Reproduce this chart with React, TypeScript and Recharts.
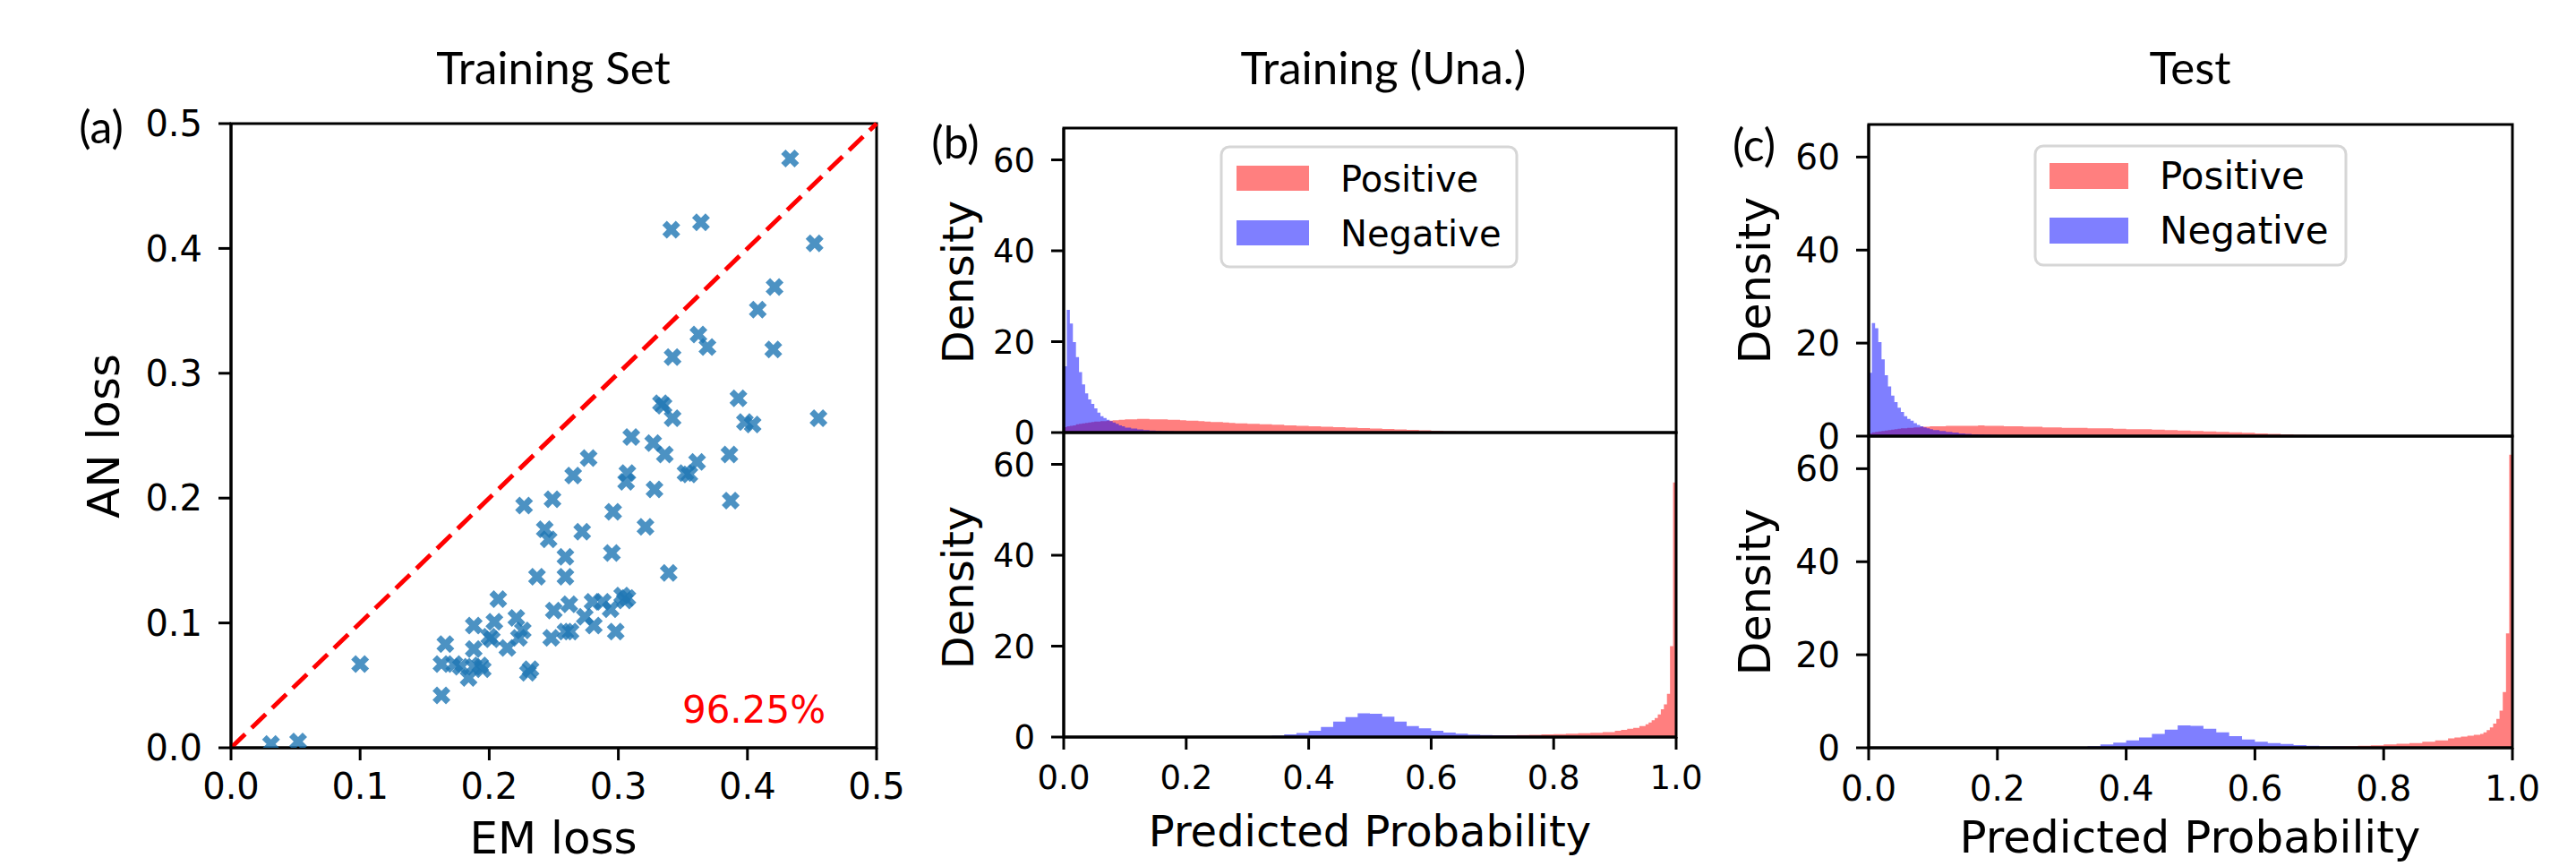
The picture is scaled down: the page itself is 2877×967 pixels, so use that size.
import React from 'react';
import {
  ScatterChart,
  Scatter,
  AreaChart,
  Area,
  XAxis,
  YAxis,
  ReferenceLine,
  ReferenceArea,
} from 'recharts';

// (a) per-sample losses on the training set
const emLoss = [
  0.433, 0.341, 0.364, 0.452, 0.421, 0.408, 0.362, 0.369, 0.42, 0.342,
  0.333, 0.335, 0.342, 0.393, 0.398, 0.404, 0.455, 0.31, 0.327, 0.336,
  0.386, 0.361, 0.352, 0.355, 0.277, 0.265, 0.307, 0.306, 0.328, 0.387,
  0.249, 0.227, 0.296, 0.321, 0.243, 0.246, 0.272, 0.259, 0.295, 0.339,
  0.237, 0.259, 0.207, 0.262, 0.28, 0.288, 0.303, 0.307, 0.294, 0.25,
  0.221, 0.204, 0.188, 0.274, 0.281, 0.259, 0.263, 0.298, 0.226, 0.2,
  0.248, 0.223, 0.166, 0.188, 0.214, 0.202, 0.163, 0.173, 0.178, 0.188,
  0.195, 0.184, 0.232, 0.23, 0.163, 0.1, 0.031, 0.052, 0.305, 0.193,
];
const anLoss = [
  0.472, 0.415, 0.421, 0.404, 0.369, 0.351, 0.331, 0.321, 0.319, 0.313,
  0.276, 0.274, 0.264, 0.28, 0.261, 0.259, 0.264, 0.249, 0.244, 0.235,
  0.235, 0.229, 0.22, 0.219, 0.232, 0.218, 0.22, 0.213, 0.207, 0.198,
  0.199, 0.194, 0.189, 0.177, 0.175, 0.167, 0.173, 0.153, 0.156, 0.14,
  0.137, 0.137, 0.119, 0.115, 0.117, 0.117, 0.122, 0.12, 0.111, 0.11,
  0.104, 0.101, 0.098, 0.105, 0.098, 0.093, 0.093, 0.093, 0.094, 0.089,
  0.088, 0.088, 0.083, 0.079, 0.08, 0.087, 0.067, 0.067, 0.065, 0.065,
  0.063, 0.056, 0.063, 0.06, 0.042, 0.067, 0.003, 0.005, 0.118, 0.066,
];
const lossTicks = [0, 0.1, 0.2, 0.3, 0.4, 0.5];

// histogram bins (left edges), finer near 0 and 1
const binEdges = [
  0, 0.005, 0.01, 0.015, 0.02, 0.025, 0.03, 0.035, 0.04, 0.045, 0.05, 0.055, 0.06, 0.065, 0.07, 0.075, 0.08, 0.085, 0.09, 0.095,
  0.1, 0.11, 0.12, 0.13, 0.14, 0.15, 0.16, 0.17, 0.18, 0.19, 0.2, 0.21, 0.22, 0.23, 0.24, 0.25, 0.26, 0.27, 0.28, 0.29,
  0.3, 0.32, 0.34, 0.36, 0.38, 0.4, 0.42, 0.44, 0.46, 0.48, 0.5, 0.52, 0.54, 0.56, 0.58, 0.6, 0.62, 0.64, 0.66, 0.68,
  0.7, 0.72, 0.74, 0.76, 0.78, 0.8, 0.82, 0.84, 0.86, 0.88,
  0.9, 0.91, 0.92, 0.93, 0.94,
  0.95, 0.955, 0.96, 0.965, 0.97, 0.975, 0.98, 0.985, 0.99, 0.995,
];
const probTicks = [0, 0.2, 0.4, 0.6, 0.8, 1.0];
const densityTicks = [0, 20, 40, 60];

// (b) Training (Una.)
const trainUpperPos = [
  1.2, 1.4, 1.5, 1.6, 1.8, 1.9, 2.0, 2.1, 2.2, 2.3, 2.4, 2.4, 2.5, 2.5, 2.6, 2.6, 2.7, 2.7, 2.8, 2.8,
  2.9, 2.9, 3.0, 3.0, 2.9, 2.9, 2.9, 2.8, 2.8, 2.7, 2.6, 2.6, 2.5, 2.4, 2.3, 2.3, 2.2, 2.1, 2.0, 2.0,
  1.9, 1.8, 1.7, 1.6, 1.5, 1.4, 1.3, 1.2, 1.1, 1.0, 0.9, 0.8, 0.7, 0.6, 0.5, 0.4, 0.3, 0.25, 0.2, 0.15,
  0.1, 0.08, 0.06, 0.05, 0.04, 0.03, 0.02, 0.02, 0.01, 0.01,
  0.01, 0.01, 0.01, 0.01, 0.01,
  0, 0, 0, 0, 0, 0, 0, 0, 0, 0,
];
const trainUpperNeg = [
  14.6, 27, 24, 19.9, 16.6, 13.3, 10.6, 8.6, 7.3, 6.3, 5.3, 4.4, 3.6, 3.2, 2.8, 2.5, 2.2, 1.9, 1.6, 1.4,
  1.1, 0.9, 0.7, 0.55, 0.45, 0.35, 0.3, 0.25, 0.2, 0.17, 0.15, 0.12, 0.1, 0.08, 0.07, 0.06, 0.05, 0.04, 0.04, 0.03,
  0.03, 0.02, 0.02, 0.02, 0.01, 0.01, 0.01, 0.01, 0, 0, 0, 0, 0, 0, 0, 0, 0, 0, 0, 0,
  0, 0, 0, 0, 0, 0, 0, 0, 0, 0,
  0, 0, 0, 0, 0,
  0, 0, 0, 0, 0, 0, 0, 0, 0, 0,
];
const trainLowerPos = [
  0, 0, 0, 0, 0, 0, 0, 0, 0, 0, 0, 0, 0, 0, 0, 0, 0, 0, 0, 0,
  0, 0, 0, 0, 0, 0, 0, 0, 0, 0, 0, 0, 0, 0, 0, 0, 0, 0, 0, 0,
  0, 0, 0, 0, 0, 0, 0, 0, 0, 0, 0, 0, 0, 0, 0, 0.05, 0.1, 0.15, 0.2, 0.3,
  0.35, 0.4, 0.45, 0.5, 0.6, 0.65, 0.75, 0.85, 0.95, 1.1,
  1.4, 1.6, 1.8, 2.0, 2.4,
  2.8, 3.2, 3.7, 4.2, 5.0, 6.1, 7.2, 9.5, 20, 56,
];
const trainLowerNeg = [
  0, 0, 0, 0, 0, 0, 0, 0, 0, 0, 0, 0, 0, 0, 0, 0, 0, 0, 0, 0,
  0, 0, 0, 0, 0, 0, 0, 0, 0, 0, 0, 0, 0, 0, 0, 0, 0, 0, 0, 0,
  0.02, 0.1, 0.3, 0.6, 0.9, 1.4, 2.2, 3.4, 4.4, 5.2, 5.1, 4.5, 3.4, 2.4, 1.9, 1.4, 1.0, 0.75, 0.55, 0.45,
  0.4, 0.35, 0.3, 0.25, 0.2, 0.15, 0.12, 0.1, 0.08, 0.06,
  0.05, 0.04, 0.03, 0.03, 0.02,
  0.02, 0.02, 0.01, 0.01, 0.01, 0.01, 0.01, 0.01, 0.01, 0.01,
];

// (c) Test
const testUpperPos = [
  0.6, 0.8, 0.9, 1.0, 1.1, 1.2, 1.3, 1.4, 1.5, 1.6, 1.7, 1.7, 1.8, 1.8, 1.9, 1.9, 2.0, 2.0, 2.0, 2.1,
  2.1, 2.1, 2.2, 2.2, 2.2, 2.2, 2.2, 2.3, 2.2, 2.2, 2.2, 2.1, 2.1, 2.1, 2.0, 2.0, 2.0, 1.9, 1.9, 1.9,
  1.8, 1.8, 1.7, 1.7, 1.6, 1.5, 1.5, 1.4, 1.3, 1.2, 1.1, 1.0, 0.9, 0.8, 0.7, 0.6, 0.5, 0.4, 0.3, 0.25,
  0.2, 0.15, 0.1, 0.08, 0.06, 0.05, 0.04, 0.03, 0.02, 0.02,
  0.01, 0.01, 0.01, 0.01, 0.01,
  0, 0, 0, 0, 0, 0, 0, 0, 0, 0,
];
const testUpperNeg = [
  13.6, 24.3, 23.2, 20.2, 16.5, 13.1, 10.7, 8.7, 7.3, 6.1, 5.2, 4.3, 3.7, 3.3, 2.8, 2.4, 2.1, 1.9, 1.7, 1.5,
  1.3, 1.1, 0.9, 0.75, 0.6, 0.5, 0.4, 0.35, 0.3, 0.25, 0.2, 0.18, 0.15, 0.13, 0.11, 0.1, 0.08, 0.07, 0.06, 0.05,
  0.04, 0.03, 0.03, 0.02, 0.02, 0.01, 0.01, 0.01, 0, 0, 0, 0, 0, 0, 0, 0, 0, 0, 0, 0,
  0, 0, 0, 0, 0, 0, 0, 0, 0, 0,
  0, 0, 0, 0, 0,
  0, 0, 0, 0, 0, 0, 0, 0, 0, 0,
];
const testLowerPos = [
  0, 0, 0, 0, 0, 0, 0, 0, 0, 0, 0, 0, 0, 0, 0, 0, 0, 0, 0, 0,
  0, 0, 0, 0, 0, 0, 0, 0, 0, 0, 0, 0, 0, 0, 0, 0, 0, 0, 0, 0,
  0, 0, 0, 0, 0, 0, 0, 0, 0, 0, 0, 0, 0, 0, 0, 0, 0, 0.05, 0.1, 0.15,
  0.2, 0.3, 0.35, 0.45, 0.55, 0.7, 0.85, 1.0, 1.3, 1.6,
  2.0, 2.2, 2.4, 2.6, 2.8,
  3.0, 3.3, 3.8, 4.4, 5.2, 6.2, 8.0, 12, 24.6, 63,
];
const testLowerNeg = [
  0, 0, 0, 0, 0, 0, 0, 0, 0, 0, 0, 0, 0, 0, 0, 0, 0, 0, 0, 0,
  0, 0, 0, 0, 0, 0, 0, 0, 0, 0, 0, 0, 0, 0, 0, 0, 0, 0, 0, 0,
  0.05, 0.15, 0.35, 0.7, 1.1, 1.6, 2.2, 3.0, 3.9, 4.8, 4.7, 4.1, 3.3, 2.5, 1.8, 1.3, 1.0, 0.8, 0.6, 0.45,
  0.35, 0.3, 0.25, 0.2, 0.15, 0.12, 0.1, 0.08, 0.06, 0.05,
  0.04, 0.03, 0.03, 0.02, 0.02,
  0.02, 0.01, 0.01, 0.01, 0.01, 0.01, 0.01, 0.01, 0.01, 0.01,
];

const TICK_FONT = 'DejaVu Sans';
const NOTE_FONT = 'Lato';
const BLACK_LINE = { stroke: '#000', strokeWidth: 3 };

const lossPoints = emLoss.map((x, i) => ({ x, y: anLoss[i] }));

// filled "X" marker like matplotlib's marker='X'
const XMark = (props: any) => {
  const { cx, cy } = props;
  if (cx == null || cy == null) return null;
  const h = 10;
  const t = 5;
  const pts = [
    [-h, -h + t], [-h + t, -h], [0, -t], [h - t, -h], [h, -h + t], [t, 0],
    [h, h - t], [h - t, h], [0, t], [-h + t, h], [-h, h - t], [-t, 0],
  ];
  return (
    <polygon
      points={pts.map(([x, y]) => `${cx + x},${cy + y}`).join(' ')}
      fill="#1f77b4"
      fillOpacity={0.8}
    />
  );
};

type HistProps = {
  pos: number[];
  neg: number[];
  left: number;
  top: number;
  width: number;
  height: number;
  margin: { top: number; right: number; bottom: number; left: number };
  showX: boolean;
  fontSize: number;
  xTickMargin?: number;
  xAxisHeight?: number;
};

const HistChart = ({ pos, neg, left, top, width, height, margin, showX, fontSize, xTickMargin, xAxisHeight }: HistProps) => {
  const rows = binEdges.map((x, i) => ({ x, pos: pos[i], neg: neg[i] }));
  rows.push({ x: 1, pos: pos[pos.length - 1], neg: neg[neg.length - 1] });
  const tick = { fontSize, fill: '#000', fontFamily: TICK_FONT };
  return (
    <div style={{ position: 'absolute', left, top }}>
      <AreaChart width={width} height={height} data={rows} margin={margin}>
        <XAxis
          dataKey="x"
          type="number"
          domain={[0, 1]}
          ticks={probTicks}
          interval={0}
          hide={!showX}
          height={xAxisHeight}
          allowDataOverflow
          tickFormatter={(v: number) => v.toFixed(1)}
          tick={tick}
          tickSize={14}
          tickMargin={xTickMargin}
          tickLine={BLACK_LINE}
          axisLine={BLACK_LINE}
        />
        <YAxis
          type="number"
          domain={[0, 67]}
          ticks={densityTicks}
          interval={0}
          width={158}
          allowDataOverflow
          tick={tick}
          tickSize={14}
          tickMargin={18}
          tickLine={BLACK_LINE}
          axisLine={BLACK_LINE}
        />
        <Area type="stepAfter" dataKey="pos" stroke="none" fill="#ff0000" fillOpacity={0.5} dot={false} activeDot={false} isAnimationActive={false} />
        <Area type="stepAfter" dataKey="neg" stroke="none" fill="#0000ff" fillOpacity={0.5} dot={false} activeDot={false} isAnimationActive={false} />
        <ReferenceArea x1={0} x2={1} y1={0} y2={67} fill="none" stroke="#000" strokeWidth={3} ifOverflow="visible" />
      </AreaChart>
    </div>
  );
};

const LegendBox = ({ x, y, w, h, px, pw, ph, r1, r2, tx, b1, b2, fontSize }: any) => (
  <g>
    <rect x={x} y={y} width={w} height={h} rx={9} fill="#fff" fillOpacity={0.8} stroke="#d6d6d6" strokeWidth={3} />
    <rect x={px} y={r1} width={pw} height={ph} fill="#ff0000" fillOpacity={0.5} />
    <rect x={px} y={r2} width={pw} height={ph} fill="#0000ff" fillOpacity={0.5} />
    <text x={tx} y={b1} fontFamily={TICK_FONT} fontSize={fontSize} fill="#000">Positive</text>
    <text x={tx} y={b2} fontFamily={TICK_FONT} fontSize={fontSize} fill="#000">Negative</text>
  </g>
);

const VLabel = ({ x, y, text, size }: any) => (
  <text transform={`translate(${x},${y}) rotate(-90)`} dy="0.36em" textAnchor="middle" fontFamily={TICK_FONT} fontSize={size} fill="#000">
    {text}
  </text>
);

const App = () => {
  const lossTick = { fontSize: 40, fill: '#000', fontFamily: TICK_FONT };
  return (
    <div style={{ position: 'absolute', left: 0, top: 0, width: 2877, height: 967, overflow: 'hidden', background: '#fff' }}>
      {/* (a) scatter */}
      <div style={{ position: 'absolute', left: 0, top: 100 }}>
        <ScatterChart width={1040} height={867} margin={{ top: 38, right: 61, bottom: 0, left: 0 }}>
          <XAxis
            type="number"
            dataKey="x"
            domain={[0, 0.5]}
            ticks={lossTicks}
            interval={0}
            height={132}
            allowDataOverflow
            tickFormatter={(v: number) => v.toFixed(1)}
            tick={lossTick}
            tickSize={14}
            tickMargin={15}
            tickLine={BLACK_LINE}
            axisLine={BLACK_LINE}
          />
          <YAxis
            type="number"
            dataKey="y"
            domain={[0, 0.5]}
            ticks={lossTicks}
            interval={0}
            width={258}
            allowDataOverflow
            tickFormatter={(v: number) => v.toFixed(1)}
            tick={lossTick}
            tickSize={14}
            tickMargin={18}
            tickLine={BLACK_LINE}
            axisLine={BLACK_LINE}
          />
          <ReferenceLine
            segment={[{ x: 0, y: 0 }, { x: 0.5, y: 0.5 }]}
            stroke="#ff0000"
            strokeWidth={5}
            strokeDasharray="22 10"
            ifOverflow="visible"
          />
          <Scatter data={lossPoints} shape={(p: any) => <XMark {...p} />} isAnimationActive={false} />
          <ReferenceArea x1={0} x2={0.5} y1={0} y2={0.5} fill="none" stroke="#000" strokeWidth={3} ifOverflow="visible" />
        </ScatterChart>
      </div>

      {/* (b) Training (Una.) */}
      <HistChart pos={trainUpperPos} neg={trainUpperNeg} left={1030} top={123} width={892} height={385}
        margin={{ top: 20, right: 50, bottom: 25, left: 0 }} showX={false} fontSize={37} />
      <HistChart pos={trainLowerPos} neg={trainLowerNeg} left={1030} top={463} width={892} height={504}
        margin={{ top: 20, right: 50, bottom: 0, left: 0 }} showX fontSize={37} xTickMargin={18} xAxisHeight={144} />

      {/* (c) Test */}
      <HistChart pos={testUpperPos} neg={testUpperNeg} left={1929} top={119} width={927} height={393}
        margin={{ top: 20, right: 50, bottom: 25, left: 0 }} showX={false} fontSize={39} />
      <HistChart pos={testLowerPos} neg={testLowerNeg} left={1929} top={467} width={927} height={500}
        margin={{ top: 20, right: 50, bottom: 0, left: 0 }} showX fontSize={39} xTickMargin={17} xAxisHeight={132} />

      {/* titles, panel letters, axis titles, legends, note */}
      <svg width={2877} height={967} style={{ position: 'absolute', left: 0, top: 0, pointerEvents: 'none' }}>
        <text x={618} y={94} textAnchor="middle" fontFamily={NOTE_FONT} fontSize={51} fill="#000">Training Set</text>
        <text x={1545} y={94} textAnchor="middle" fontFamily={NOTE_FONT} fontSize={51} fill="#000">Training (Una.)</text>
        <text x={2446} y={94} textAnchor="middle" fontFamily={NOTE_FONT} fontSize={51} fill="#000">Test</text>

        <text x={113} y={160} textAnchor="middle" fontFamily={NOTE_FONT} fontSize={50} fill="#000">(a)</text>
        <text x={1067} y={177} textAnchor="middle" fontFamily={NOTE_FONT} fontSize={50} fill="#000">(b)</text>
        <text x={1959} y={180} textAnchor="middle" fontFamily={NOTE_FONT} fontSize={50} fill="#000">(c)</text>

        <text x={618} y={953} textAnchor="middle" fontFamily={TICK_FONT} fontSize={50} fill="#000">EM loss</text>
        <VLabel x={115} y={487} text="AN loss" size={50} />
        <text x={842} y={807} textAnchor="middle" fontFamily={TICK_FONT} fontSize={42} fill="#ff0000">96.25%</text>

        <VLabel x={1070} y={315} text="Density" size={48} />
        <VLabel x={1070} y={656} text="Density" size={48} />
        <text x={1530} y={945} textAnchor="middle" fontFamily={TICK_FONT} fontSize={48} fill="#000">Predicted Probability</text>

        <VLabel x={1959} y={313} text="Density" size={49} />
        <VLabel x={1959} y={661} text="Density" size={49} />
        <text x={2446} y={952} textAnchor="middle" fontFamily={TICK_FONT} fontSize={50} fill="#000">Predicted Probability</text>

        <LegendBox x={1364} y={164} w={330} h={134} px={1381} pw={81} ph={28} r1={185} r2={246} tx={1497} b1={214} b2={275} fontSize={40} />
        <LegendBox x={2273} y={163} w={347} h={133} px={2289} pw={88} ph={29} r1={182} r2={243} tx={2412} b1={211} b2={272} fontSize={42} />
      </svg>
    </div>
  );
};

export default App;
